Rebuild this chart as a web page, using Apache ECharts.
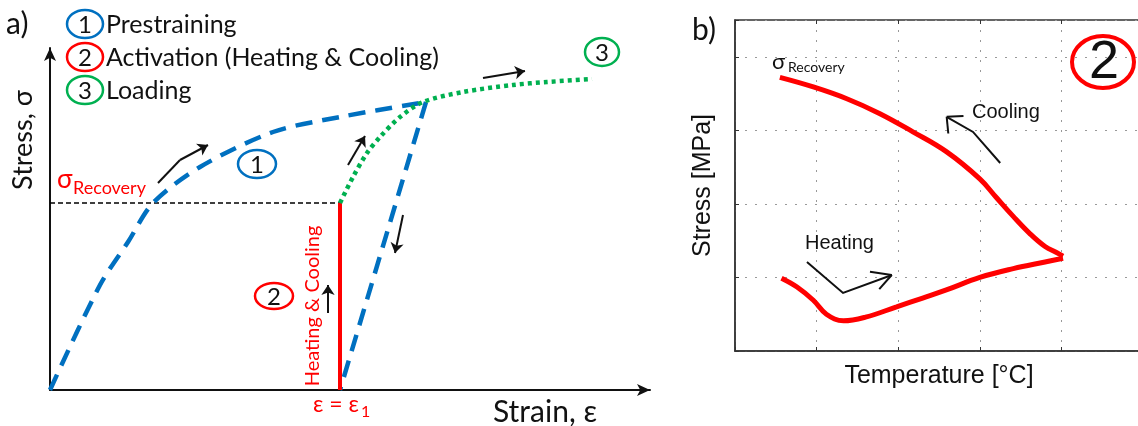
<!DOCTYPE html>
<html><head><meta charset="utf-8">
<script src="https://cdn.jsdelivr.net/npm/echarts@6/dist/echarts.min.js"></script>
<style>html,body{margin:0;padding:0;background:#fff}#c{width:1138px;height:426px}</style>
</head><body><div id="c"></div>
<script>
// ---------- Panel a) schematic (units: strain / stress, arbitrary) ----------
const prestrainCurve = [[0,0],[50,105],[78,148],[103,187],[150,223],[223,258],[290,273],[376,288]];
const unloadingLine = [[376,288],[290,0]];
const loadingCurve = [[290,187],[303,213],[317,237],[330,253],[350,273],[373,288],[413,298],[463,305],[497,308],[542,311]];
const activationLine = [[290,0],[290,187]];
const recoveryLevel = [[0,187],[290,187]];
const arrowsA = [
  [[108,207],[130,230],[158,245]],
  [[298,225],[315,254]],
  [[433,312],[475,319]],
  [[353,175],[345,137]],
  [[278,77],[278,105]]
];
const legendItems = ['Prestraining','Activation (Heating & Cooling)','Loading'];
const legendNums = ['1','2','3'];
// ---------- Panel b) measured curve (temperature vs stress, arbitrary units) ----------
const heatingCurve = [[0.57,0.99],[0.76,0.87],[0.96,0.69],[1.12,0.50],[1.33,0.41],[1.6,0.46],[1.98,0.60],[2.3,0.72],[2.59,0.83],[3.0,1.0],[3.41,1.12],[3.8,1.21],[4.02,1.26]];
const coolingCurve = [[0.55,3.72],[0.96,3.59],[1.37,3.43],[1.77,3.23],[2.18,2.98],[2.59,2.71],[3.0,2.34],[3.2,2.09],[3.41,1.83],[3.61,1.60],[3.8,1.42],[3.94,1.34],[4.02,1.29]];
const coolingArrow = [[[3.25,2.556],[2.917,2.978],[2.598,3.18]],[[2.594,3.185],[2.80,3.195]],[[2.594,3.185],[2.614,2.957]]];
const heatingArrow = [[[0.882,1.21],[1.324,0.789],[1.924,1.033]],[[1.92,1.033],[1.654,1.078]],[[1.92,1.033],[1.768,0.840]]];

const BLUE='#0070c0', RED='#ff0000', GREEN='#00b050';
const LATO='Lato, "Open Sans", sans-serif';
const ARIAL='"Liberation Sans", Arial, sans-serif';

function txt(x,y,text,size,color,opt){
  opt=opt||{};
  return {type:'text', x:x, y:y, rotation:opt.rot||0, z:100,
    style:{text:text, font:(opt.weight||'normal')+' '+size+'px '+(opt.family||LATO), fill:color,
      textAlign:opt.align||'left', align:opt.align||'left', textVerticalAlign:'middle', verticalAlign:'middle'}};
}
function ell(cx,cy,rx,ry,color,w){
  return {type:'ellipse', z:90, shape:{cx:cx,cy:cy,rx:rx,ry:ry}, style:{fill:'none', stroke:color, lineWidth:w||2.5}};
}

const graphic = [
  txt(6,24,'a)',30,'#111'),
  txt(692,30,'b)',30,'#111'),
  txt(23,140,'Stress, σ',27,'#111',{rot:Math.PI/2,align:'center'}),
  txt(493,412,'Strain, ε',30,'#111'),
  txt(57,180,'σ',26,RED),
  txt(73,188,'Recovery',18,RED),
  txt(313,306,'Heating & Cooling',20,RED,{rot:Math.PI/2,align:'center'}),
  txt(313,405,'ε = ε',23,RED),
  txt(361,412,'1',16,RED),
  ell(257,164,19,14,BLUE), txt(257,165,'1',24,'#111',{align:'center'}),
  ell(274,296,19,13,RED), txt(274,297,'2',24,'#111',{align:'center'}),
  ell(602,52,17,14,GREEN), txt(602,53,'3',24,'#111',{align:'center'}),
  // panel b labels
  txt(772,62,'σ',22,'#111'),
  txt(788,67,'Recovery',14,'#111'),
  txt(972,112,'Cooling',20,'#111',{family:ARIAL}),
  txt(805,243,'Heating',20,'#111',{family:ARIAL}),
  ell(1103,62,31,26,RED,4), txt(1104,63,'2',54,'#111',{align:'center',family:ARIAL})
];
const legCol=[BLUE,RED,GREEN], legY=[24,57,90];
legendItems.forEach((t,i)=>{
  graphic.push(ell(85,legY[i],18,14,legCol[i]));
  graphic.push(txt(85,legY[i]+1,legendNums[i],24,'#111',{align:'center'}));
  graphic.push(txt(106,legY[i]+1,t,25,'#111'));
});

// split annotation arrows: body segments + final segment carrying the head
const arrowBody = [], arrowHead = [];
arrowsA.forEach(p=>{
  for(let i=0;i<p.length-1;i++){
    (i===p.length-2 ? arrowHead : arrowBody).push({coords:[p[i],p[i+1]]});
  }
});

const option = {
  animation:false,
  backgroundColor:'#fff',
  grid:[
    {left:50, top:48, width:600, height:342, outerBoundsMode:'none'},
    {left:735, top:20, width:408, height:331, outerBoundsMode:'none', show:true, borderColor:'#333', borderWidth:1.5}
  ],
  xAxis:[
    {gridIndex:0, type:'value', min:0, max:600, axisLine:{show:true, symbol:['none','arrow'], symbolSize:[9,13], lineStyle:{color:'#111', width:2}}, axisTick:{show:false}, axisLabel:{show:false}, splitLine:{show:false}},
    {gridIndex:1, type:'value', min:0, max:5, interval:1, axisLine:{show:true, lineStyle:{color:'#333', width:1.5}}, axisTick:{show:true, inside:true, length:4, lineStyle:{color:'#333'}}, axisLabel:{show:false},
      splitLine:{show:true, lineStyle:{color:'#999', width:1, type:[2,8]}},
      name:'Temperature [°C]', nameLocation:'middle', nameGap:13, nameTextStyle:{fontFamily:ARIAL, fontSize:25, color:'#111', verticalAlign:'top'}},
    {gridIndex:1, type:'value', position:'top', min:0, max:5, interval:1, axisLine:{show:false}, axisTick:{show:true, inside:true, length:4, lineStyle:{color:'#333'}}, axisLabel:{show:false}, splitLine:{show:false}}
  ],
  yAxis:[
    {gridIndex:0, type:'value', min:0, max:342, axisLine:{show:true, symbol:['none','arrow'], symbolSize:[9,13], lineStyle:{color:'#111', width:2}}, axisTick:{show:false}, axisLabel:{show:false}, splitLine:{show:false}},
    {gridIndex:1, type:'value', min:0, max:4.5, interval:1, axisLine:{show:true, lineStyle:{color:'#333', width:1.5}}, axisTick:{show:true, inside:true, length:4, lineStyle:{color:'#333'}}, axisLabel:{show:false},
      splitLine:{show:true, lineStyle:{color:'#999', width:1, type:[2,8]}},
      name:'Stress [MPa]', nameLocation:'middle', nameGap:19, nameRotate:90, nameTextStyle:{fontFamily:ARIAL, fontSize:25, color:'#111'}}
  ],
  series:[
    {type:'line', xAxisIndex:0, yAxisIndex:0, data:recoveryLevel, showSymbol:false, lineStyle:{color:'#000', width:1.3, type:[5,3]}},
    {type:'line', xAxisIndex:0, yAxisIndex:0, data:prestrainCurve, smooth:0.3, showSymbol:false, lineStyle:{color:BLUE, width:4.5, type:[17,10], cap:'butt'}},
    {type:'line', xAxisIndex:0, yAxisIndex:0, data:unloadingLine, showSymbol:false, lineStyle:{color:BLUE, width:4.5, type:[17,10], cap:'butt'}},
    {type:'line', xAxisIndex:0, yAxisIndex:0, data:activationLine, showSymbol:false, lineStyle:{color:RED, width:4}},
    {type:'line', xAxisIndex:0, yAxisIndex:0, data:loadingCurve, smooth:0.3, showSymbol:false, lineStyle:{color:GREEN, width:4.5, type:[4,4], cap:'butt'}},
    {type:'lines', coordinateSystem:'cartesian2d', xAxisIndex:0, yAxisIndex:0, symbol:['none','none'],
      data:arrowBody, lineStyle:{color:'#111', width:2, opacity:1, curveness:0}},
    {type:'lines', coordinateSystem:'cartesian2d', xAxisIndex:0, yAxisIndex:0, symbol:['none','arrow'], symbolSize:10,
      data:arrowHead, lineStyle:{color:'#111', width:2, opacity:1, curveness:0}},
    {type:'line', xAxisIndex:1, yAxisIndex:1, data:heatingCurve, smooth:0.4, showSymbol:false, lineStyle:{color:RED, width:5}},
    {type:'line', xAxisIndex:1, yAxisIndex:1, data:coolingCurve, smooth:0.4, showSymbol:false, lineStyle:{color:RED, width:5}},
    {type:'lines', coordinateSystem:'cartesian2d', xAxisIndex:1, yAxisIndex:1, polyline:true,
      data:coolingArrow.concat(heatingArrow).map(c=>({coords:c})), lineStyle:{color:'#111', width:2, opacity:1}}
  ],
  graphic:graphic
};
const chart = echarts.init(document.getElementById('c'), null, {renderer:'canvas'});
chart.setOption(option);
</script></body></html>
